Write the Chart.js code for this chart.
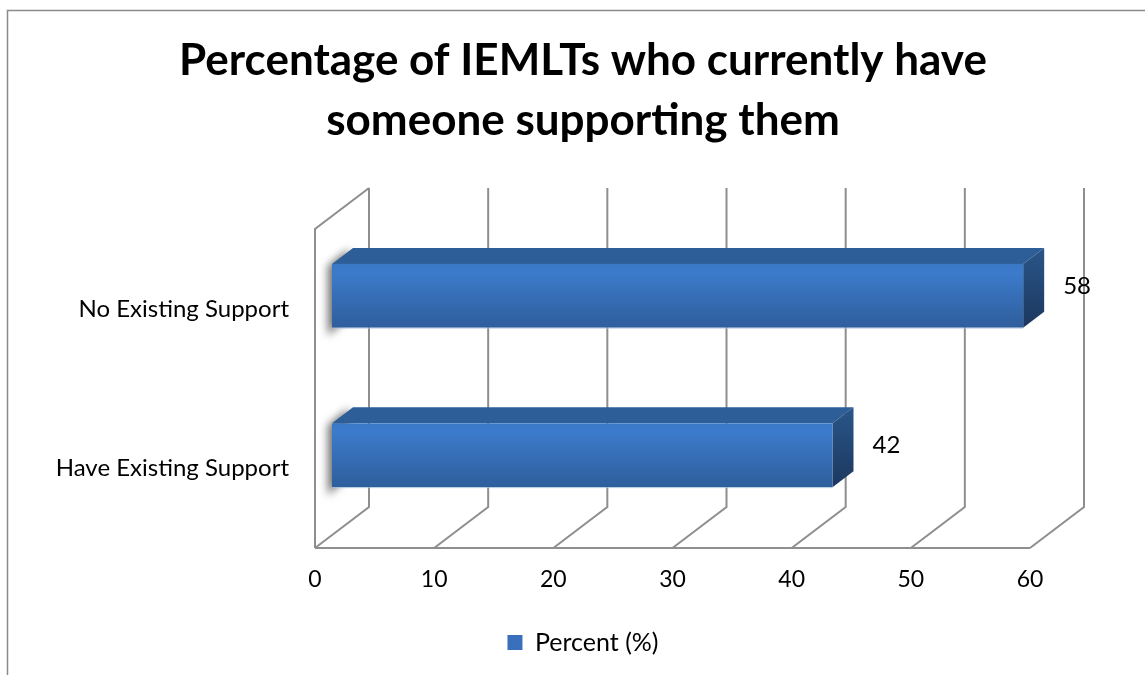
<!DOCTYPE html>
<html>
<head>
<meta charset="utf-8">
<script src="https://cdn.jsdelivr.net/npm/chart.js@4.4.0/dist/chart.umd.min.js"></script>
<style>
  html, body { margin: 0; padding: 0; background: #fff; }
  #michart { display: block; }
</style>
</head>
<body>
<canvas id="michart" width="1145" height="675"></canvas>
<script>
const categorias = ['No Existing Support', 'Have Existing Support']
const porcentajes = [58, 42]
const ticksX = [0, 10, 20, 30, 40, 50, 60]
const serie = 'Percent (%)'

// fondo 3D: desplazamiento de la pared trasera y de las barras
const PARED = { dx: 54, dy: -41 }
const FRENTE_BARRA = { dx: 17, dy: -13 }
const FONDO_BARRA = { dx: 21, dy: -16 }
const fuente = 'Lato, "Open Sans", sans-serif'

const marco = {
  id: 'marco',
  beforeDraw(chart) {
    const ctx = chart.ctx
    ctx.save()
    ctx.strokeStyle = '#8a8a8a'
    ctx.lineWidth = 1.5
    ctx.strokeRect(7.5, 10.5, 1160, 700)
    ctx.restore()
  }
}

const barras3d = {
  id: 'barras3d',
  beforeDatasetsDraw(chart) {
    const ctx = chart.ctx
    const area = chart.chartArea
    const x = chart.scales.x
    const x0 = x.getPixelForValue(ticksX[0])
    const xN = x.getPixelForValue(ticksX[ticksX.length - 1])

    // paredes y lineas de la cuadricula
    ctx.save()
    ctx.strokeStyle = '#8e8e8e'
    ctx.lineWidth = 2
    ctx.beginPath()
    ctx.moveTo(x0, area.bottom)
    ctx.lineTo(x0, area.top)
    ctx.lineTo(x0 + PARED.dx, area.top + PARED.dy)
    ctx.moveTo(x0, area.bottom)
    ctx.lineTo(xN, area.bottom)
    ticksX.forEach(v => {
      const xf = x.getPixelForValue(v)
      ctx.moveTo(xf + PARED.dx, area.top + PARED.dy)
      ctx.lineTo(xf + PARED.dx, area.bottom + PARED.dy)
      ctx.lineTo(xf, area.bottom)
    })
    ctx.stroke()
    ctx.restore()

    const meta = chart.getDatasetMeta(0)
    meta.data.forEach((el, i) => {
      const L = el.base + FRENTE_BARRA.dx
      const R = el.x + FRENTE_BARRA.dx
      const T = el.y - el.height / 2 + FRENTE_BARRA.dy
      const B = el.y + el.height / 2 + FRENTE_BARRA.dy
      const dx = FONDO_BARRA.dx, dy = FONDO_BARRA.dy

      // sombra sobre la pared izquierda
      ctx.save()
      ctx.filter = 'blur(4px)'
      ctx.fillStyle = 'rgba(50,50,50,0.7)'
      ctx.beginPath()
      ctx.moveTo(L - 4, T + 2)
      ctx.lineTo(L + dx - 4, T + dy + 1)
      ctx.lineTo(L + dx - 4, B + dy + 4)
      ctx.lineTo(L - 4, B + 8)
      ctx.closePath()
      ctx.fill()
      ctx.restore()

      ctx.save()
      // cara superior
      ctx.fillStyle = '#2d5e97'
      ctx.beginPath()
      ctx.moveTo(L, T)
      ctx.lineTo(L + dx, T + dy)
      ctx.lineTo(R + dx, T + dy)
      ctx.lineTo(R, T)
      ctx.closePath()
      ctx.fill()

      // cara lateral derecha
      const gLado = ctx.createLinearGradient(0, T + dy, 0, B)
      gLado.addColorStop(0, '#2a5688')
      gLado.addColorStop(1, '#1c375f')
      ctx.fillStyle = gLado
      ctx.beginPath()
      ctx.moveTo(R, T)
      ctx.lineTo(R + dx, T + dy)
      ctx.lineTo(R + dx, B + dy)
      ctx.lineTo(R, B)
      ctx.closePath()
      ctx.fill()

      // cara frontal
      const gFrente = ctx.createLinearGradient(0, T, 0, B)
      gFrente.addColorStop(0, '#3a78c6')
      gFrente.addColorStop(0.12, '#3c7bcc')
      gFrente.addColorStop(1, '#2e5e9c')
      ctx.fillStyle = gFrente
      ctx.fillRect(L, T, R - L, B - T)
      ctx.strokeStyle = 'rgba(170,195,225,0.8)'
      ctx.lineWidth = 1
      ctx.beginPath()
      ctx.moveTo(L, B + 0.5)
      ctx.lineTo(R, B + 0.5)
      ctx.stroke()

      // etiqueta del valor
      ctx.fillStyle = '#000'
      ctx.font = '24px ' + fuente
      ctx.textAlign = 'left'
      ctx.textBaseline = 'middle'
      ctx.fillText(String(porcentajes[i]), R + dx + 19, (T + B) / 2 - 10)
      ctx.restore()
    })
    return false
  }
}

const config = {
  type: 'bar',
  data: {
    labels: categorias,
    datasets: [{
      label: serie,
      data: porcentajes,
      backgroundColor: '#3a70bb',
      borderColor: '#2d5e97',
      borderWidth: 0,
      categoryPercentage: 1,
      barPercentage: 0.4
    }]
  },
  options: {
    responsive: false,
    animation: false,
    indexAxis: 'y',
    layout: { padding: { left: 40, right: 19, top: 0, bottom: 10 } },
    scales: {
      x: {
        min: 0,
        max: 60,
        afterBuildTicks: scale => { scale.ticks = ticksX.map(v => ({ value: v })) },
        afterFit: scale => { scale.height = 72 },
        grid: { display: false, drawTicks: false },
        border: { display: false },
        ticks: { color: '#000', font: { family: fuente, size: 23 }, padding: 18 }
      },
      y: {
        afterFit: scale => { scale.width = 275 },
        grid: { display: false, drawTicks: false },
        border: { display: false },
        ticks: { color: '#000', font: { family: fuente, size: 24 }, padding: 26 }
      },
      // eje vacio a la derecha: deja sitio para la pared del fondo y las etiquetas
      margen: {
        type: 'linear',
        position: 'right',
        afterFit: scale => { scale.width = 96 },
        grid: { display: false, drawTicks: false },
        border: { display: false },
        ticks: { display: false }
      }
    },
    plugins: {
      title: {
        display: true,
        text: ['Percentage of IEMLTs who currently have', 'someone supporting them'],
        color: '#000',
        font: { family: fuente, size: 44, weight: 'bold', lineHeight: 1.364 },
        padding: { top: 31, bottom: 78 }
      },
      legend: {
        position: 'bottom',
        labels: {
          color: '#000',
          font: { family: fuente, size: 25 },
          boxWidth: 15,
          boxHeight: 15,
          padding: 10
        }
      },
      tooltip: { enabled: false }
    }
  },
  plugins: [marco, barras3d]
}

document.addEventListener('DOMContentLoaded', () => {
  new Chart(document.getElementById('michart'), config)
})
</script>
</body>
</html>
